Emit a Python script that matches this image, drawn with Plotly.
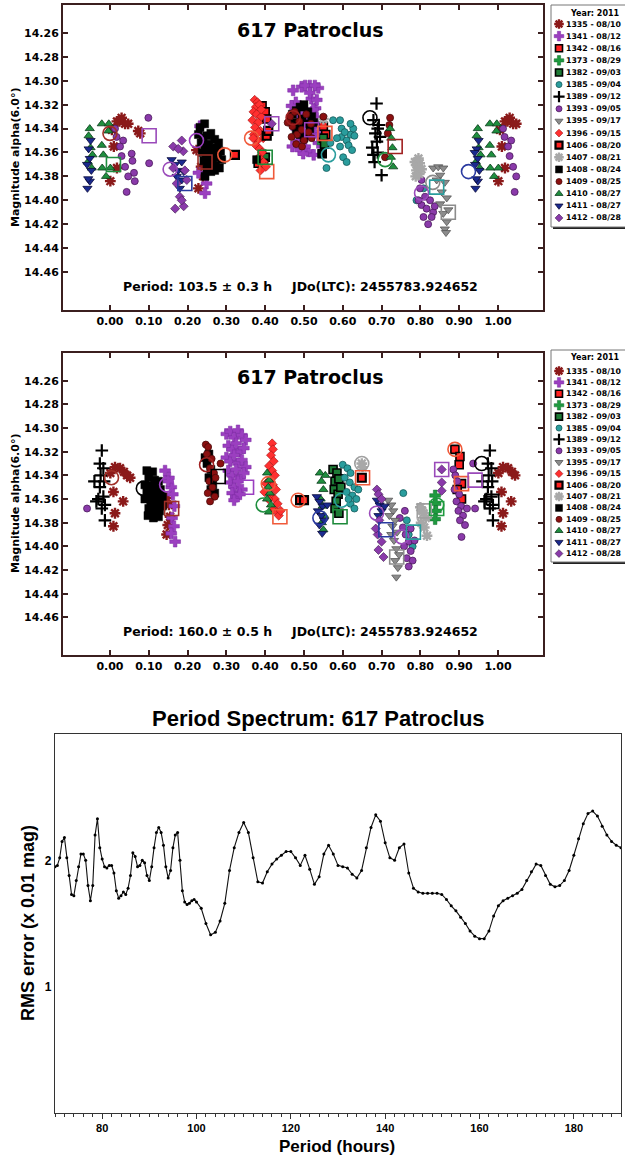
import plotly.graph_objects as go

W, H = 625, 1155

# ---------------- sessions / legend ----------------
SESSIONS = ["1335", "1341", "1342", "1373", "1382", "1385", "1389", "1393", "1395",
            "1396", "1406", "1407", "1408", "1409", "1410", "1411", "1412"]
SESSION_DATES = ["08/10", "08/12", "08/16", "08/29", "09/03", "09/04", "09/12", "09/05", "09/17",
                 "09/15", "08/20", "08/21", "08/24", "08/25", "08/27", "08/27", "08/28"]
LEGEND_TITLE = "Year: 2011"

# ---------------- panel 1 : P = 103.5 h ----------------
T_1335_PH = [0.005, 0.010, 0.018, 0.024, 0.030, 0.039, 0.047, 0.018, 0.001, 0.073, 0.078, 0.223, 0.240, 0.228, 0.235]
T_1335_MAG = [14.341, 14.355, 14.334, 14.334, 14.331, 14.336, 14.336, 14.373, 14.384, 14.342, 14.344, 14.358, 14.380, 14.390, 14.372]
T_1341_PH = [0.232, 0.249, 0.245, 0.228, 0.472, 0.494, 0.515, 0.537, 0.479, 0.519, 0.530, 0.468, 0.485, 0.507, 0.533, 0.528, 0.490, 0.511, 0.537, 0.470, 0.525, 0.503, 0.528, 0.515, 0.533, 0.524, 0.498, 0.503, 0.498, 0.480, 0.510, 0.520, 0.542, 0.486]
T_1341_MAG = [14.338, 14.386, 14.394, 14.377, 14.308, 14.305, 14.304, 14.306, 14.318, 14.315, 14.323, 14.321, 14.327, 14.330, 14.331, 14.343, 14.358, 14.359, 14.352, 14.355, 14.362, 14.304, 14.304, 14.310, 14.316, 14.324, 14.333, 14.355, 14.361, 14.340, 14.345, 14.338, 14.345, 14.350]
T_1342_PH = [0.392, 0.400, 0.404, 0.382, 0.550, 0.556]
T_1342_MAG = [14.321, 14.326, 14.332, 14.369, 14.338, 14.345]
T_1373_PH = [0.398, 0.548]
T_1373_MAG = [14.362, 14.352]
T_1382_PH = [0.400, 0.396, 0.550, 0.553, 0.547]
T_1382_MAG = [14.364, 14.369, 14.348, 14.353, 14.361]
T_1385_PH = [0.558, 0.575, 0.593, 0.597, 0.597, 0.610, 0.620, 0.615, 0.627, 0.601, 0.610, 0.624, 0.593, 0.620, 0.568, 0.585, 0.605, 0.630, 0.795, 0.808, 0.790]
T_1385_MAG = [14.373, 14.333, 14.333, 14.340, 14.347, 14.350, 14.345, 14.354, 14.340, 14.364, 14.368, 14.358, 14.355, 14.336, 14.352, 14.348, 14.343, 14.346, 14.372, 14.390, 14.400]
T_1389_PH = [0.687, 0.679, 0.690, 0.684, 0.696, 0.688, 0.679, 0.690, 0.682, 0.700, 0.676, 0.693]
T_1389_MAG = [14.319, 14.333, 14.340, 14.344, 14.347, 14.351, 14.362, 14.360, 14.368, 14.379, 14.356, 14.337]
T_1393_PH = [0.013, 0.034, 0.026, 0.056, 0.058, 0.039, 0.062, 0.047, 0.064, 0.043, 0.099, 0.101, 0.017, 0.030,
             0.803, 0.799, 0.812, 0.825, 0.803, 0.816, 0.833, 0.808, 0.829, 0.820, 0.837, 0.795]
T_1393_MAG = [14.340, 14.350, 14.355, 14.361, 14.367, 14.372, 14.377, 14.380, 14.384, 14.393, 14.331, 14.369, 14.347, 14.363,
              14.383, 14.390, 14.397, 14.400, 14.404, 14.407, 14.410, 14.414, 14.414, 14.420, 14.405, 14.400]
T_1395_PH = [0.833, 0.846, 0.859, 0.851, 0.863, 0.842, 0.855, 0.868, 0.851, 0.859, 0.868, 0.863, 0.866, 0.872]
T_1395_MAG = [14.373, 14.372, 14.373, 14.379, 14.385, 14.383, 14.393, 14.398, 14.403, 14.411, 14.418, 14.424, 14.427, 14.408]
T_1396_PH = [0.373, 0.380, 0.376, 0.385, 0.370, 0.378, 0.390, 0.367, 0.382, 0.374, 0.388, 0.371, 0.395, 0.380, 0.376, 0.386, 0.392, 0.384, 0.396, 0.402, 0.388, 0.369, 0.390, 0.383]
T_1396_MAG = [14.316, 14.318, 14.322, 14.320, 14.326, 14.328, 14.330, 14.333, 14.335, 14.339, 14.342, 14.345, 14.348, 14.350, 14.354, 14.357, 14.360, 14.364, 14.368, 14.372, 14.375, 14.348, 14.324, 14.343]
T_1406_PH = [0.322, 0.404, 0.408]
T_1406_MAG = [14.362, 14.346, 14.342]
T_1407_PH = [0.786, 0.792, 0.798, 0.790, 0.797, 0.803, 0.788, 0.795, 0.550]
T_1407_MAG = [14.368, 14.371, 14.369, 14.375, 14.378, 14.374, 14.380, 14.365, 14.332]
T_1408_PH = [0.232, 0.244, 0.228, 0.240, 0.250, 0.260, 0.270, 0.280, 0.235, 0.245, 0.255, 0.265, 0.275, 0.285, 0.238,
             0.248, 0.258, 0.268, 0.278, 0.288, 0.242, 0.252, 0.262, 0.272, 0.282, 0.250, 0.260, 0.270, 0.245, 0.265,
             0.378, 0.470, 0.480, 0.490, 0.500, 0.510, 0.520, 0.475, 0.485, 0.495, 0.505, 0.515, 0.490, 0.500, 0.480, 0.525, 0.546]
T_1408_MAG = [14.339, 14.336, 14.345, 14.348, 14.346, 14.344, 14.349, 14.352, 14.352, 14.355, 14.353, 14.357, 14.356, 14.359, 14.360,
              14.362, 14.361, 14.364, 14.363, 14.366, 14.367, 14.369, 14.368, 14.371, 14.373, 14.374, 14.376, 14.375, 14.380, 14.370,
              14.366, 14.328, 14.325, 14.322, 14.320, 14.326, 14.330, 14.335, 14.338, 14.332, 14.336, 14.340, 14.345, 14.348, 14.342, 14.335, 14.361]
T_1409_PH = [0.464, 0.470, 0.476, 0.482, 0.488, 0.494, 0.500, 0.506, 0.512, 0.518, 0.468, 0.480, 0.495, 0.520, 0.550, 0.458, 0.722, 0.720, 0.709, 0.716]
T_1409_MAG = [14.330, 14.338, 14.326, 14.345, 14.334, 14.341, 14.350, 14.328, 14.343, 14.336, 14.347, 14.353, 14.355, 14.348, 14.330, 14.335, 14.331, 14.337, 14.364, 14.344]
T_1410_PH = [0.948, 0.945, 0.950, 0.955, 0.943, 0.953, 0.979, 0.997, 0.996, 0.979, 0.983, 0.980, 0.001, 0.990, 0.722, 0.725, 0.728, 0.724, 0.730]
T_1410_MAG = [14.340, 14.346, 14.356, 14.362, 14.368, 14.373, 14.336, 14.336, 14.342, 14.354, 14.362, 14.373, 14.373, 14.380, 14.340, 14.348, 14.356, 14.364, 14.372]
T_1411_PH = [0.945, 0.940, 0.948, 0.941, 0.952, 0.948, 0.942, 0.944, 0.950, 0.159, 0.168, 0.176, 0.185, 0.172, 0.185, 0.180, 0.190]
T_1411_MAG = [14.357, 14.360, 14.365, 14.370, 14.375, 14.384, 14.390, 14.382, 14.350, 14.366, 14.370, 14.375, 14.368, 14.380, 14.383, 14.390, 14.376]
T_1412_PH = [0.163, 0.185, 0.172, 0.180, 0.168, 0.190, 0.189, 0.193, 0.198, 0.163, 0.176, 0.185, 0.417]
T_1412_MAG = [14.355, 14.350, 14.386, 14.397, 14.407, 14.405, 14.359, 14.375, 14.383, 14.373, 14.357, 14.400, 14.336]

TOC_SESS = ["1335", "1393", "1341", "1406", "1396", "1409", "1385", "1389", "1410", "1393", "1395", "1411"]
TOC_PH = [0.000, 0.155, 0.223, 0.296, 0.365, 0.472, 0.563, 0.670, 0.709, 0.803, 0.832, 0.924]
TOC_MAG = [14.344, 14.374, 14.350, 14.362, 14.348, 14.331, 14.362, 14.331, 14.366, 14.394, 14.385, 14.376]
TOS_SESS = ["1393", "1410", "1411", "1335", "1396", "1412", "1382", "1341", "1342", "1409", "1385", "1395"]
TOS_PH = [0.101, 0.009, 0.193, 0.245, 0.404, 0.417, 0.400, 0.520, 0.554, 0.735, 0.842, 0.872]
TOS_MAG = [14.346, 14.370, 14.386, 14.368, 14.376, 14.336, 14.364, 14.341, 14.344, 14.355, 14.389, 14.410]

# ---------------- panel 2 : P = 160.0 h ----------------
S_1335_PH = [0.013, 0.026, 0.036, 0.052, 0.009, 0.034, 0.013, 0.009, 0.001, 0.044, 0.146, 0.152, 0.155, 0.149, 0.146]
S_1335_MAG = [14.333, 14.334, 14.337, 14.342, 14.354, 14.362, 14.372, 14.383, 14.338, 14.340, 14.359, 14.365, 14.375, 14.382, 14.390]
S_1341_PH = [0.142, 0.152, 0.158, 0.162, 0.166, 0.160, 0.165, 0.158, 0.168, 0.150,
             0.30, 0.31, 0.32, 0.33, 0.34, 0.35, 0.305, 0.315, 0.325, 0.335, 0.345, 0.30, 0.31, 0.32, 0.33, 0.34, 0.35,
             0.305, 0.315, 0.325, 0.335, 0.345, 0.31, 0.32, 0.33, 0.34, 0.315, 0.325, 0.335, 0.32]
S_1341_MAG = [14.336, 14.342, 14.350, 14.356, 14.366, 14.376, 14.383, 14.389, 14.396, 14.345,
              14.305, 14.303, 14.308, 14.302, 14.306, 14.310, 14.315, 14.318, 14.313, 14.320, 14.317, 14.325, 14.328, 14.323, 14.330, 14.327, 14.333,
              14.336, 14.340, 14.335, 14.342, 14.338, 14.346, 14.350, 14.345, 14.352, 14.355, 14.358, 14.356, 14.361]
S_1342_PH = [0.889, 0.902, 0.900, 0.906, 0.895, 0.906]
S_1342_MAG = [14.318, 14.324, 14.331, 14.347, 14.352, 14.360]
S_1373_PH = [0.838, 0.839, 0.840, 0.838]
S_1373_MAG = [14.357, 14.364, 14.370, 14.377]
S_1382_PH = [0.575, 0.585, 0.580, 0.590, 0.578, 0.588, 0.583, 0.595, 0.580, 0.590]
S_1382_MAG = [14.335, 14.338, 14.345, 14.343, 14.352, 14.356, 14.362, 14.350, 14.368, 14.372]
S_1385_PH = [0.600, 0.612, 0.620, 0.605, 0.618, 0.630, 0.610, 0.625, 0.635, 0.620, 0.640, 0.630, 0.615, 0.756, 0.765, 0.770, 0.780]
S_1385_MAG = [14.331, 14.334, 14.338, 14.342, 14.346, 14.350, 14.354, 14.357, 14.360, 14.364, 14.352, 14.368, 14.360, 14.355, 14.378, 14.390, 14.400]
S_1389_PH = [0.979, 0.974, 0.983, 0.976, 0.985, 0.974, 0.983, 0.970, 0.987, 0.979, 0.987, 0.960, 0.965]
S_1389_MAG = [14.319, 14.330, 14.334, 14.340, 14.345, 14.350, 14.358, 14.360, 14.365, 14.368, 14.378, 14.345, 14.362]
S_1393_PH = [0.747, 0.755, 0.762, 0.770, 0.758, 0.775, 0.765, 0.780, 0.770, 0.785, 0.760, 0.775,
             0.885, 0.890, 0.895, 0.888, 0.900, 0.893, 0.905, 0.898, 0.910, 0.902, 0.915, 0.906, 0.920, 0.936, 0.941]
S_1393_MAG = [14.376, 14.384, 14.390, 14.396, 14.400, 14.404, 14.410, 14.412, 14.417, 14.395, 14.370, 14.385,
              14.335, 14.340, 14.345, 14.352, 14.356, 14.362, 14.366, 14.370, 14.374, 14.378, 14.382, 14.392, 14.368, 14.330, 14.368]
S_1395_PH = [0.717, 0.725, 0.730, 0.720, 0.735, 0.728, 0.740, 0.732, 0.738, 0.745, 0.735, 0.742, 0.738, 0.725]
S_1395_MAG = [14.361, 14.365, 14.370, 14.374, 14.378, 14.383, 14.388, 14.395, 14.402, 14.407, 14.412, 14.418, 14.426, 14.390]
S_1396_PH = [0.418, 0.420, 0.415, 0.422, 0.410, 0.418, 0.425, 0.412, 0.420, 0.428, 0.415, 0.425, 0.432, 0.420, 0.430, 0.435, 0.398, 0.402, 0.440, 0.408]
S_1396_MAG = [14.313, 14.318, 14.323, 14.328, 14.332, 14.336, 14.340, 14.344, 14.348, 14.352, 14.356, 14.360, 14.364, 14.368, 14.371, 14.374, 14.354, 14.347, 14.370, 14.360]
S_1406_PH = [0.490, 0.500, 0.649]
S_1406_MAG = [14.361, 14.361, 14.342]
S_1407_PH = [0.649, 0.651, 0.800, 0.808, 0.814, 0.802, 0.810, 0.817, 0.805]
S_1407_MAG = [14.330, 14.333, 14.367, 14.372, 14.376, 14.380, 14.384, 14.391, 14.370]
S_1408_PH = [0.095, 0.110, 0.100, 0.115, 0.125, 0.090, 0.105, 0.120, 0.130, 0.095, 0.110, 0.125, 0.135, 0.100, 0.115,
             0.130, 0.090, 0.105, 0.120, 0.135, 0.100, 0.115, 0.128, 0.108, 0.120, 0.098, 0.112, 0.125,
             0.245, 0.255, 0.250, 0.260, 0.255, 0.265, 0.270, 0.260]
S_1408_MAG = [14.336, 14.337, 14.342, 14.344, 14.345, 14.348, 14.349, 14.350, 14.352, 14.354, 14.355, 14.356, 14.358, 14.359, 14.361,
              14.362, 14.360, 14.364, 14.366, 14.366, 14.368, 14.369, 14.370, 14.372, 14.373, 14.374, 14.376, 14.375,
              14.325, 14.322, 14.330, 14.335, 14.342, 14.348, 14.355, 14.352]
S_1409_PH = [0.247, 0.253, 0.250, 0.262, 0.258, 0.268, 0.256, 0.264, 0.252, 0.270, 0.258, 0.272, 0.285]
S_1409_MAG = [14.314, 14.316, 14.322, 14.326, 14.334, 14.338, 14.345, 14.350, 14.355, 14.358, 14.362, 14.342, 14.330]
S_1410_PH = [0.405, 0.410, 0.408, 0.412, 0.405, 0.415, 0.410, 0.541, 0.545, 0.550, 0.543, 0.548, 0.552, 0.546, 0.550, 0.555]
S_1410_MAG = [14.338, 14.344, 14.350, 14.355, 14.360, 14.365, 14.371, 14.338, 14.345, 14.352, 14.360, 14.366, 14.374, 14.380, 14.386, 14.340]
S_1411_PH = [0.533, 0.540, 0.548, 0.536, 0.545, 0.552, 0.540, 0.547, 0.560, 0.688, 0.695, 0.700, 0.708, 0.692]
S_1411_MAG = [14.358, 14.362, 14.366, 14.370, 14.374, 14.378, 14.382, 14.389, 14.365, 14.361, 14.365, 14.370, 14.366, 14.374]
S_1412_PH = [0.688, 0.692, 0.700, 0.694, 0.690, 0.700, 0.692, 0.705, 0.685, 0.855, 0.855, 0.855]
S_1412_MAG = [14.352, 14.356, 14.360, 14.378, 14.390, 14.396, 14.403, 14.409, 14.385, 14.335, 14.346, 14.353]

SOC_SESS = ["1335", "1389", "1408", "1341", "1409", "1410", "1396", "1406", "1411", "1385", "1407", "1412", "1393", "1373", "1342"]
SOC_PH = [0.004, 0.958, 0.086, 0.146, 0.249, 0.395, 0.408, 0.485, 0.541, 0.597, 0.649, 0.687, 0.752, 0.842, 0.889]
SOC_MAG = [14.342, 14.330, 14.351, 14.348, 14.331, 14.365, 14.347, 14.361, 14.376, 14.361, 14.330, 14.372, 14.392, 14.365, 14.318]
SOS_SESS = ["1335", "1408", "1341", "1396", "1406", "1382", "1411", "1395", "1385", "1407", "1373", "1412", "1342", "1393", "1389"]
SOS_PH = [0.159, 0.279, 0.352, 0.438, 0.651, 0.593, 0.711, 0.739, 0.782, 0.810, 0.842, 0.855, 0.906, 0.941, 0.984]
SOS_MAG = [14.368, 14.341, 14.350, 14.375, 14.342, 14.375, 14.386, 14.409, 14.388, 14.370, 14.368, 14.335, 14.347, 14.344, 14.362]

# ---------------- period spectrum ----------------
PERIOD_H = [70.0, 70.5, 71.0, 71.5, 72.0, 72.5, 73.0, 73.5, 74.0, 74.5, 75.0, 75.5, 76.0, 76.5, 77.0, 77.5, 78.0, 78.5, 79.0, 79.5,
            80.0, 80.5, 81.0, 81.5, 82.0, 82.5, 83.0, 83.5, 84.0, 84.5, 85.0, 85.5, 86.0, 86.5, 87.0, 87.5, 88.0, 88.5, 89.0, 89.5,
            90.0, 90.5, 91.0, 91.5, 92.0, 92.5, 93.0, 93.5, 94.0, 94.5, 95.0, 95.5, 96.0, 96.5, 97.0, 97.5, 98.0, 98.5, 99.0, 99.5,
            100.0, 101, 102, 103, 104, 105, 106, 107, 108, 109, 110, 111, 112, 113, 114, 115, 116, 117, 118, 119, 120,
            121, 122, 123, 124, 125, 126, 127, 128, 129, 130, 131, 132, 133, 134, 135, 136, 137, 138, 139, 140,
            141, 142, 143, 144, 145, 146, 147, 148, 149, 150, 151, 152, 153, 154, 155, 156, 157, 158, 159, 160,
            161, 162, 163, 164, 165, 166, 167, 168, 169, 170, 171, 172, 173, 174, 175, 176, 177, 178, 179, 180,
            181, 182, 183, 184, 185, 186, 187, 188, 189, 190]
RMS_ERR = [1.95, 1.96, 2.02, 2.15, 2.18, 2.02, 1.88, 1.73, 1.72, 1.84, 1.95, 2.05, 2.05, 2.00, 1.80, 1.68, 1.80, 2.20, 2.33, 2.10,
           2.01, 1.95, 1.94, 1.96, 1.96, 1.90, 1.76, 1.70, 1.72, 1.75, 1.73, 1.78, 1.88, 2.06, 2.03, 1.95, 1.96, 2.00, 1.98, 1.88,
           1.84, 1.95, 2.10, 2.22, 2.26, 2.22, 2.12, 1.95, 1.86, 1.92, 2.10, 2.20, 2.22, 2.00, 1.76, 1.67, 1.65, 1.66, 1.68, 1.69,
           1.67, 1.62, 1.50, 1.41, 1.43, 1.52, 1.66, 1.92, 2.10, 2.22, 2.30, 2.22, 2.02, 1.83, 1.82, 1.91, 1.97, 2.01, 2.04, 2.07, 2.07,
           2.02, 1.96, 2.04, 1.93, 1.81, 1.87, 2.05, 2.12, 2.05, 1.96, 1.95, 1.94, 1.89, 1.86, 1.92, 2.10, 2.26, 2.36, 2.31, 2.14,
           2.02, 2.00, 2.10, 2.13, 1.90, 1.78, 1.75, 1.74, 1.74, 1.74, 1.74, 1.73, 1.69, 1.64, 1.60, 1.55, 1.50, 1.44, 1.40, 1.38,
           1.38, 1.44, 1.56, 1.64, 1.68, 1.70, 1.72, 1.74, 1.77, 1.84, 1.91, 1.97, 1.96, 1.88, 1.81, 1.79, 1.80, 1.84, 1.92, 2.04,
           2.17, 2.29, 2.37, 2.39, 2.35, 2.27, 2.20, 2.15, 2.12, 2.10]

PHASE_TICKS = [0.0, 0.1, 0.2, 0.3, 0.4, 0.5, 0.6, 0.7, 0.8, 0.9, 1.0]
MAG_TICKS = [14.26, 14.28, 14.30, 14.32, 14.34, 14.36, 14.38, 14.40, 14.42, 14.44, 14.46]

# ---------------- styles ----------------
STYLE = {
    "1335": dict(symbol="asterisk", fill="#8b1a1a", line="#8b1a1a", lw=2.4, size=9, ring="#a03028"),
    "1341": dict(symbol="cross", fill="#9b3fc0", line="#7a2aa0", lw=0.5, size=9, ring="#9b3fc0"),
    "1342": dict(symbol="square", fill="#ff2020", line="#000000", lw=1.6, size=8, ring="#f05a3a"),
    "1373": dict(symbol="cross", fill="#1f9a3f", line="#0f6a2a", lw=0.5, size=9, ring="#1f9a3f"),
    "1382": dict(symbol="square", fill="#1d7a35", line="#000000", lw=1.6, size=8, ring="#1d8a3a"),
    "1385": dict(symbol="circle", fill="#2a9d9d", line="#145a5a", lw=0.8, size=7, ring="#2a9d9d"),
    "1389": dict(symbol="cross-thin", fill="#000000", line="#000000", lw=2.2, size=9, ring="#000000"),
    "1393": dict(symbol="circle", fill="#8a3aaa", line="#4a1a5a", lw=0.8, size=7, ring="#9a4aba"),
    "1395": dict(symbol="triangle-down", fill="#8c8c8c", line="#555555", lw=0.8, size=8, ring="#8c8c8c"),
    "1396": dict(symbol="diamond", fill="#ff3030", line="#a01010", lw=0.6, size=7, ring="#f05a3a"),
    "1406": dict(symbol="square", fill="#ff2020", line="#000000", lw=2.2, size=8, ring="#f05a3a"),
    "1407": dict(symbol="asterisk", fill="#a8a8a8", line="#a8a8a8", lw=2.4, size=9, ring="#a0a0a0"),
    "1408": dict(symbol="square", fill="#000000", line="#000000", lw=0.5, size=8, ring="#000000"),
    "1409": dict(symbol="circle", fill="#8b1010", line="#4a0a0a", lw=0.8, size=7, ring="#a02020"),
    "1410": dict(symbol="triangle-up", fill="#1f8f3f", line="#0a3a1a", lw=0.8, size=8, ring="#1f8f3f"),
    "1411": dict(symbol="triangle-down", fill="#1a2a8f", line="#0a0a3a", lw=0.8, size=8, ring="#2a3aa0"),
    "1412": dict(symbol="diamond", fill="#8a3aaa", line="#3a1a4a", lw=0.6, size=7, ring="#9a4aba"),
}

FRAME = "#3b1f1f"
DJ = "DejaVu Sans"
LS = "Liberation Sans"

g = globals()
TOP = {s: (g["T_%s_PH" % s], g["T_%s_MAG" % s]) for s in SESSIONS}
SEC = {s: (g["S_%s_PH" % s], g["S_%s_MAG" % s]) for s in SESSIONS}
for d in (TOP, SEC):
    for s, (a, b) in d.items():
        assert len(a) == len(b), s


def wrap(ph, mag):
    xs, ys = [], []
    for p, m in zip(ph, mag):
        xs.append(p); ys.append(m)
        if p < 0.05:
            xs.append(p + 1); ys.append(m)
        if p > 0.94:
            xs.append(p - 1); ys.append(m)
    return xs, ys


def marker(s, size=None):
    st = STYLE[s]
    return dict(symbol=st["symbol"], size=size or st["size"], color=st["fill"],
                line=dict(color=st["line"], width=st["lw"]))


fig = go.Figure()

for data, xa, ya, oc, os_ in ((TOP, "x", "y", (TOC_SESS, TOC_PH, TOC_MAG), (TOS_SESS, TOS_PH, TOS_MAG)),
                              (SEC, "x2", "y2", (SOC_SESS, SOC_PH, SOC_MAG), (SOS_SESS, SOS_PH, SOS_MAG))):
    for s in SESSIONS:
        xs, ys = wrap(*data[s])
        fig.add_trace(go.Scatter(x=xs, y=ys, mode="markers", marker=marker(s), xaxis=xa, yaxis=ya,
                                 showlegend=False, hoverinfo="skip", cliponaxis=True))
    for (sess, ph, mag), sym in ((oc, "circle-open"), (os_, "square-open")):
        fig.add_trace(go.Scatter(x=ph, y=mag, mode="markers", xaxis=xa, yaxis=ya, showlegend=False, hoverinfo="skip",
                                 marker=dict(symbol=sym, size=14, color=[STYLE[s]["ring"] for s in sess],
                                             line=dict(width=1.6, color=[STYLE[s]["ring"] for s in sess]))))

# period spectrum
fig.add_trace(go.Scatter(x=PERIOD_H, y=RMS_ERR, mode="lines+markers", xaxis="x3", yaxis="y3",
                         line=dict(color="#111111", width=1.1), marker=dict(size=3, color="#000000"),
                         showlegend=False, hoverinfo="skip"))

# legends (drawn in a pixel-coordinate overlay axis x4/y4)
shapes = []
annotations = []
for top, bot, title_y, first_y, step in ((5, 227, 13, 24, 12.12), (350, 562, 357, 371, 11.41)):
    shapes.append(dict(type="rect", xref="x4", yref="y4", x0=553, x1=640, y0=top + 2, y1=bot + 2,
                       fillcolor="#222222", line=dict(width=0), layer="below"))
    shapes.append(dict(type="rect", xref="x4", yref="y4", x0=551, x1=640, y0=top, y1=bot,
                       fillcolor="white", line=dict(color="#777777", width=1), layer="below"))
    annotations.append(dict(xref="x4", yref="y4", x=568, y=title_y, text="<b>%s</b>" % LEGEND_TITLE,
                            showarrow=False, xanchor="left", yanchor="middle",
                            font=dict(family=DJ, size=8, color="black")))
    for i, s in enumerate(SESSIONS):
        yy = first_y + step * i
        fig.add_trace(go.Scatter(x=[559], y=[yy], mode="markers", xaxis="x4", yaxis="y4",
                                 marker=marker(s, size=STYLE[s]["size"] - 1),
                                 showlegend=False, hoverinfo="skip", cliponaxis=False))
        annotations.append(dict(xref="x4", yref="y4", x=565, y=yy,
                                text="<b>%s - %s</b>" % (s, SESSION_DATES[i]),
                                showarrow=False, xanchor="left", yanchor="middle", borderpad=0,
                                font=dict(family=DJ, size=7.8, color="black")))

# panel texts
for ty, py, per in ((30, 286, "103.5 ± 0.3 h"), (377, 631, "160.0 ± 0.5 h")):
    annotations.append(dict(xref="x4", yref="y4", x=310, y=ty, text="<b>617 Patroclus</b>", showarrow=False,
                            xanchor="center", yanchor="middle", font=dict(family=DJ, size=19, color="black")))
    annotations.append(dict(xref="x4", yref="y4", x=121, y=py, text="<b>Period: %s</b>" % per, showarrow=False,
                            xanchor="left", yanchor="middle", font=dict(family=DJ, size=12.5, color="black")))
    annotations.append(dict(xref="x4", yref="y4", x=289, y=py, text="<b>JDo(LTC): 2455783.924652</b>",
                            showarrow=False, xanchor="left", yanchor="middle",
                            font=dict(family=DJ, size=12.5, color="black")))
for cy in (158, 504):
    annotations.append(dict(xref="x4", yref="y4", x=15, y=cy, text="<b>Magnitude alpha(6.0°)</b>", textangle=-90,
                            showarrow=False, xanchor="center", yanchor="middle",
                            font=dict(family=DJ, size=11, color="black")))

annotations.append(dict(xref="x4", yref="y4", x=318, y=718, text="<b>Period Spectrum: 617 Patroclus</b>",
                        showarrow=False, xanchor="center", yanchor="middle", font=dict(family=LS, size=22, color="black")))
annotations.append(dict(xref="x4", yref="y4", x=337, y=1146, text="<b>Period (hours)</b>", borderpad=0,
                        showarrow=False, xanchor="center", yanchor="middle", font=dict(family=LS, size=17, color="black")))
annotations.append(dict(xref="x4", yref="y4", x=28, y=923, text="<b>RMS error (x 0.01 mag)</b>", textangle=-90,
                        showarrow=False, xanchor="center", yanchor="middle", font=dict(family=LS, size=18, color="black")))


def phase_axis(dom, anchor):
    return dict(domain=dom, anchor=anchor, range=[-0.121, 1.116], tickmode="array", tickvals=PHASE_TICKS,
                ticktext=["%.2f" % v for v in PHASE_TICKS], ticks="inside", ticklen=5, tickwidth=1.5,
                tickcolor=FRAME, showline=True, linecolor=FRAME, linewidth=2, mirror="ticks",
                showgrid=False, zeroline=False, fixedrange=True,
                tickfont=dict(family=DJ, size=11, color="black", weight="bold"))


def mag_axis(dom, anchor):
    return dict(domain=dom, anchor=anchor, range=[14.4918, 14.2366], tickmode="array", tickvals=MAG_TICKS,
                ticktext=["%.2f" % v for v in MAG_TICKS], ticks="inside", ticklen=5, tickwidth=1.5,
                tickcolor=FRAME, showline=True, linecolor=FRAME, linewidth=2, mirror="ticks",
                showgrid=False, zeroline=False, fixedrange=True,
                tickfont=dict(family=DJ, size=11, color="black", weight="bold"))


fig.update_layout(
    width=W, height=H, autosize=False,
    margin=dict(l=0, r=0, t=0, b=0, pad=0),
    paper_bgcolor="white", plot_bgcolor="rgba(0,0,0,0)",
    showlegend=False,
    xaxis=phase_axis([63 / W, 543 / W], "y"),
    yaxis=mag_axis([1 - 310 / H, 1 - 5 / H], "x"),
    xaxis2=phase_axis([63 / W, 543 / W], "y2"),
    yaxis2=mag_axis([1 - 655 / H, 1 - 353 / H], "x2"),
    xaxis3=dict(domain=[55 / W, 621 / W], anchor="y3", range=[70, 190], tick0=0, dtick=20,
                ticks="outside", ticklen=5, tickcolor="#333333", showline=True, linecolor="#333333",
                linewidth=1.2, mirror=True, showgrid=False, zeroline=False, fixedrange=True,
                minor=dict(dtick=2, tick0=0, ticks="outside", ticklen=3, tickcolor="#333333", showgrid=False),
                tickfont=dict(family=LS, size=11, color="black", weight="bold")),
    yaxis3=dict(domain=[1 - 1113 / H, 1 - 734 / H], anchor="x3", range=[0, 3], tickmode="array",
                tickvals=[1, 2], ticktext=["1", "2"], ticks="", showline=True, linecolor="#333333",
                linewidth=1.2, mirror=True, showgrid=False, zeroline=False, fixedrange=True,
                tickfont=dict(family=LS, size=12, color="black", weight="bold")),
    xaxis4=dict(domain=[0, 1], anchor="y4", range=[0, W], visible=False, fixedrange=True),
    yaxis4=dict(domain=[0, 1], anchor="x4", range=[H, 0], visible=False, fixedrange=True),
    shapes=shapes,
    annotations=annotations,
)

fig.write_html("out.html")
